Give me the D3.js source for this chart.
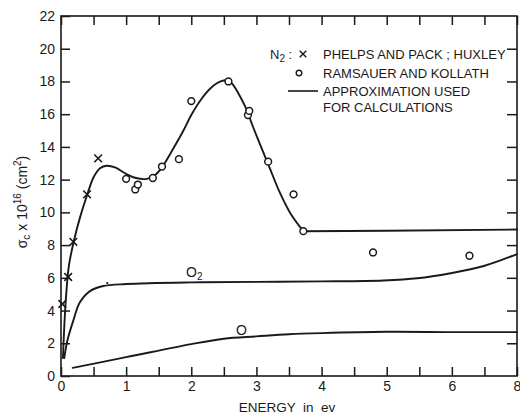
<!DOCTYPE html>
<html>
<head>
<meta charset="utf-8">
<script src="https://cdn.jsdelivr.net/npm/d3@7/dist/d3.min.js"></script>
<style>
  html, body { margin: 0; padding: 0; background: #fff; }
  svg { display: block; font-family: "Liberation Sans", Arial, sans-serif; }
</style>
</head>
<body>
<svg id="chart" width="520" height="414"></svg>
<script>
// Energy axis ticks (the last printed label reads "8")
const xTickValues = [0, 1, 2, 3, 4, 5, 6, 7];
const xTickLabels = ["0", "1", "2", "3", "4", "5", "6", "8"];
const yTickValues = [0, 2, 4, 6, 8, 10, 12, 14, 16, 18, 20, 22];

// N2 measurements: Phelps and Pack; Huxley  [energy eV, sigma x 1e16 cm^2]
const n2Phelps = [[0.02, 4.4], [0.11, 6.05], [0.19, 8.2], [0.4, 11.1], [0.57, 13.3]];

// N2 measurements: Ramsauer and Kollath
const n2Ramsauer = [
  [1.0, 12.05], [1.14, 11.4], [1.18, 11.7], [1.41, 12.1], [1.55, 12.8],
  [1.81, 13.25], [2.0, 16.8], [2.57, 18.0], [2.87, 15.95], [2.89, 16.2],
  [3.18, 13.1], [3.57, 11.1], [3.72, 8.85], [4.79, 7.55], [6.27, 7.35]
];

// N2 approximation used for calculations: smooth rise/peak, then a flat tail
const n2Approx = [
  [0.03, 1.1], [0.05, 3.0], [0.08, 5.0], [0.12, 6.7], [0.2, 8.3], [0.3, 9.8],
  [0.4, 11.05], [0.5, 12.15], [0.6, 12.7], [0.7, 12.85], [0.83, 12.75],
  [1.0, 12.35], [1.15, 12.1], [1.32, 12.05], [1.45, 12.3], [1.55, 12.75],
  [1.68, 13.6], [1.88, 15.0], [2.0, 15.95], [2.15, 16.9], [2.3, 17.6],
  [2.45, 18.0], [2.57, 18.05], [2.65, 17.75], [2.72, 17.3], [2.83, 16.45],
  [2.95, 15.2], [3.18, 12.95], [3.36, 11.2], [3.52, 9.95], [3.72, 8.85]
];
const n2Tail = [[3.72, 8.85], [5.0, 8.88], [7.0, 8.95]];

// O2 approximation
const o2Approx = [
  [0.05, 1.1], [0.1, 2.2], [0.19, 3.4], [0.29, 4.5], [0.45, 5.2], [0.65, 5.5],
  [1.0, 5.62], [2.0, 5.72], [3.0, 5.75], [4.0, 5.78], [4.95, 5.84], [5.47, 5.97],
  [5.98, 6.28], [6.49, 6.72], [7.0, 7.45]
];
const o2Dot = [[0.71, 5.68]];

// O approximation
const oApprox = [
  [0.18, 0.5], [1.0, 1.15], [2.0, 1.95], [2.5, 2.28], [3.0, 2.42], [3.5, 2.55],
  [4.0, 2.62], [5.0, 2.7], [6.0, 2.68], [7.0, 2.68]
];

const legendRows = ["PHELPS AND PACK ; HUXLEY", "RAMSAUER AND KOLLATH", "APPROXIMATION USED", "FOR CALCULATIONS"];

const ink = "#1a1a1a";
const svg = d3.select("#chart");

const x = d3.scaleLinear().domain([0, 7]).range([61, 517]);
const y = d3.scaleLinear().domain([0, 22]).range([376, 16]);

// Frame
svg.append("rect")
  .attr("x", x(0)).attr("y", y(22))
  .attr("width", x(7) - x(0)).attr("height", y(0) - y(22))
  .attr("fill", "none").attr("stroke", ink).attr("stroke-width", 1.6);

const halfTicks = d3.range(0, 7.001, 0.5);

function styleAxis(g) {
  g.select(".domain").remove();
  g.selectAll(".tick line").attr("stroke", ink).attr("stroke-width", 1.5);
  g.selectAll(".tick text").attr("fill", ink).attr("font-size", 14);
}

// Bottom axis with inward ticks every 0.5 eV
svg.append("g")
  .attr("transform", `translate(0,${y(0)})`)
  .call(d3.axisBottom(x).tickValues(halfTicks).tickSizeInner(-9).tickSizeOuter(0).tickPadding(5)
    .tickFormat(d => {
      const i = xTickValues.indexOf(d);
      return i >= 0 ? xTickLabels[i] : "";
    }))
  .call(styleAxis);

// Top axis
svg.append("g")
  .attr("transform", `translate(0,${y(22)})`)
  .call(d3.axisTop(x).tickValues(halfTicks).tickSizeInner(-9).tickSizeOuter(0).tickFormat(""))
  .call(styleAxis);

// Left axis
svg.append("g")
  .attr("transform", `translate(${x(0)},0)`)
  .call(d3.axisLeft(y).tickValues(yTickValues).tickSizeInner(-9).tickSizeOuter(0).tickPadding(6))
  .call(styleAxis);

// Right axis
svg.append("g")
  .attr("transform", `translate(${x(7)},0)`)
  .call(d3.axisRight(y).tickValues(yTickValues.slice(1, -1)).tickSizeInner(-10).tickSizeOuter(0).tickFormat(""))
  .call(styleAxis);

// Curves
const smooth = d3.line().x(d => x(d[0])).y(d => y(d[1])).curve(d3.curveCatmullRom.alpha(0.5));
const straight = d3.line().x(d => x(d[0])).y(d => y(d[1]));

[[n2Approx, smooth], [n2Tail, straight], [o2Approx, smooth], [oApprox, smooth]].forEach(([data, gen]) => {
  svg.append("path")
    .attr("d", gen(data))
    .attr("fill", "none").attr("stroke", ink)
    .attr("stroke-width", 1.9).attr("stroke-linejoin", "round").attr("stroke-linecap", "round");
});

svg.selectAll(".dot").data(o2Dot).join("circle")
  .attr("cx", d => x(d[0])).attr("cy", d => y(d[1])).attr("r", 1.1).attr("fill", ink);

// Markers
const xSym = d3.symbol().type(d3.symbolX).size(40);
svg.selectAll(".phelps").data(n2Phelps).join("path")
  .attr("transform", d => `translate(${x(d[0])},${y(d[1])})`)
  .attr("d", xSym).attr("fill", "none").attr("stroke", ink).attr("stroke-width", 1.6);

svg.selectAll(".ramsauer").data(n2Ramsauer).join("circle")
  .attr("cx", d => x(d[0])).attr("cy", d => y(d[1])).attr("r", 3.4)
  .attr("fill", "#fff").attr("stroke", ink).attr("stroke-width", 1.5);

// Curve labels
const o2Label = svg.append("text").attr("x", 186).attr("y", 277).attr("fill", ink).attr("font-size", 14);
o2Label.append("tspan").text("O");
o2Label.append("tspan").attr("font-size", 10).attr("dy", 3).text("2");
svg.append("text").attr("x", 236).attr("y", 335).attr("fill", ink).attr("font-size", 14).text("O");

// Legend
const lg = svg.append("g").attr("fill", ink).attr("font-size", 13);
const n2 = lg.append("text").attr("x", 270).attr("y", 59);
n2.append("tspan").text("N");
n2.append("tspan").attr("font-size", 10).attr("dy", 3).text("2");
n2.append("tspan").attr("dy", -3).text(" :");
lg.append("path")
  .attr("transform", "translate(303,54)")
  .attr("d", d3.symbol().type(d3.symbolX).size(30)).attr("fill", "none").attr("stroke", ink).attr("stroke-width", 1.4);
lg.append("circle").attr("cx", 299).attr("cy", 73).attr("r", 2.8)
  .attr("fill", "none").attr("stroke", ink).attr("stroke-width", 1.4);
lg.append("line").attr("x1", 288).attr("x2", 318).attr("y1", 91).attr("y2", 91)
  .attr("stroke", ink).attr("stroke-width", 1.6);
const rowY = [59, 78, 96, 112];
lg.selectAll(".row").data(legendRows).join("text")
  .attr("x", 323).attr("y", (d, i) => rowY[i]).text(d => d);

// Axis titles
svg.append("text")
  .attr("x", 287).attr("y", 412)
  .attr("text-anchor", "middle").attr("fill", ink).attr("font-size", 13.5)
  .style("white-space", "pre")
  .text("ENERGY  in  ev");

const yl = svg.append("text")
  .attr("transform", "translate(27,202) rotate(-90)")
  .attr("text-anchor", "middle").attr("fill", ink).attr("font-size", 14)
  .style("white-space", "pre");
yl.append("tspan").text("σ");
yl.append("tspan").attr("font-size", 10).attr("dy", 3).text("c");
yl.append("tspan").attr("dy", -3).text(" x 10");
yl.append("tspan").attr("font-size", 10).attr("dy", -6).text("16");
yl.append("tspan").attr("dy", 6).text(" (cm");
yl.append("tspan").attr("font-size", 10).attr("dy", -6).text("2");
yl.append("tspan").attr("dy", 6).text(")");
</script>
</body>
</html>
